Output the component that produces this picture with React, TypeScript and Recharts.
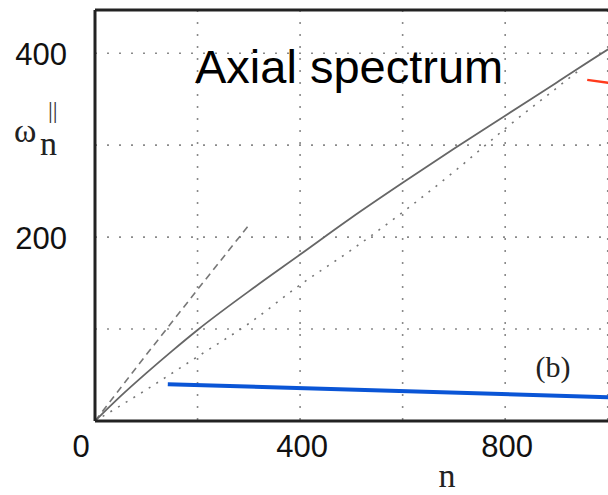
import React from "react"
import { LineChart, Line, XAxis, YAxis, CartesianGrid, ReferenceLine } from "recharts"

// axis ticks (grid) and which of them carry a label
const xTicks = [0, 200, 400, 600, 800, 1000]
const yTicks = [0, 100, 200, 300, 400]
const xLabels = [0, 400, 800]
const yLabels = [200, 400]

// solid curve
const solidN = [0, 50, 100, 150, 200, 300, 400, 500, 600, 700, 800, 900, 1000, 1050]
const solidW = [0, 27, 52, 76, 99, 141, 181, 221, 259, 296, 332, 368, 404, 421]

// dashed line (short)
const dashedN = [0, 100, 200, 300]
const dashedW = [0, 72, 143, 213]

// dotted line
const dottedN = [0, 100, 200, 300, 400, 500, 600, 700, 800, 900, 950]
const dottedW = [0, 34, 70, 106, 148, 186, 227, 271, 318, 362, 384]

// annotation strokes
const blueN = [142, 1050]
const blueW = [40, 25]
const redN = [960, 1050]
const redW = [371, 364]

const zip = (n: number[], w: number[]) => n.map((v, i) => ({ n: v, w: w[i] }))

const solid = zip(solidN, solidW)
const dashed = zip(dashedN, dashedW)
const dotted = zip(dottedN, dottedW)
const blue = zip(blueN, blueW)
const red = zip(redN, redW)

const sans = "'Liberation Sans', Arial, sans-serif"
const serif = "'Liberation Serif', 'Times New Roman', serif"

const XTick = (props: any) => {
  const { x, y, payload } = props
  if (!xLabels.includes(payload.value)) return <g />
  const dx = payload.value === 0 ? -14 : 2
  return (
    <text x={x + dx} y={y + 36} textAnchor="middle" fontSize={31} fontFamily={sans} fill="#111">
      {payload.value}
    </text>
  )
}

const YTick = (props: any) => {
  const { x, y, payload } = props
  if (!yLabels.includes(payload.value)) return <g />
  return (
    <text x={x - 28} y={y + 12} textAnchor="end" fontSize={31} fontFamily={sans} fill="#111">
      {payload.value}
    </text>
  )
}

export default function App() {
  return (
    <div style={{ position: "absolute", left: 0, top: 0, width: 608, height: 495, overflow: "hidden", background: "#fff" }}>
      <LineChart width={700} height={495} margin={{ top: 10, right: 41, bottom: 0, left: 0 }}>
        <CartesianGrid stroke="#8a8a8a" strokeWidth={1.6} strokeDasharray="2 10" />
        <XAxis
          type="number"
          dataKey="n"
          domain={[0, 1100]}
          ticks={xTicks}
          height={74}
          tickSize={0}
          tickMargin={0}
          tickLine={false}
          axisLine={{ stroke: "#222", strokeWidth: 3 }}
          tick={<XTick />}
          allowDataOverflow
        />
        <YAxis
          type="number"
          dataKey="w"
          domain={[0, 447]}
          ticks={yTicks}
          width={95}
          tickSize={0}
          tickMargin={0}
          tickLine={false}
          axisLine={{ stroke: "#222", strokeWidth: 3 }}
          tick={<YTick />}
          allowDataOverflow
        />
        <ReferenceLine y={447} stroke="#222" strokeWidth={3} />
        <Line data={dotted} dataKey="w" type="monotone" stroke="#777" strokeWidth={1.6} strokeDasharray="2 7" dot={false} isAnimationActive={false} />
        <Line data={dashed} dataKey="w" type="linear" stroke="#777" strokeWidth={1.6} strokeDasharray="7 5" dot={false} isAnimationActive={false} />
        <Line data={solid} dataKey="w" type="monotone" stroke="#666" strokeWidth={1.8} dot={false} isAnimationActive={false} />
        <Line data={blue} dataKey="w" type="linear" stroke="#0a55d6" strokeWidth={4} dot={false} isAnimationActive={false} />
        <Line data={red} dataKey="w" type="linear" stroke="#ff3a1c" strokeWidth={2.5} dot={false} isAnimationActive={false} />
      </LineChart>
      <svg width={608} height={495} style={{ position: "absolute", left: 0, top: 0, pointerEvents: "none" }}>
        <text x={195} y={83} fontSize={47} fontFamily={sans} fill="#000">Axial spectrum</text>
        <text x={553} y={377} textAnchor="middle" fontSize={30} fontFamily={serif} fill="#222">(b)</text>
        <text x={14} y={142} fontSize={34} fontFamily={serif} fill="#222">ω</text>
        <text x={40} y={155} fontSize={34} fontFamily={serif} fill="#222">n</text>
        <text x={48} y={118} fontSize={24} fontFamily={serif} fill="#333">||</text>
        <text x={447} y={487} textAnchor="middle" fontSize={34} fontFamily={serif} fill="#222">n</text>
      </svg>
    </div>
  )
}
